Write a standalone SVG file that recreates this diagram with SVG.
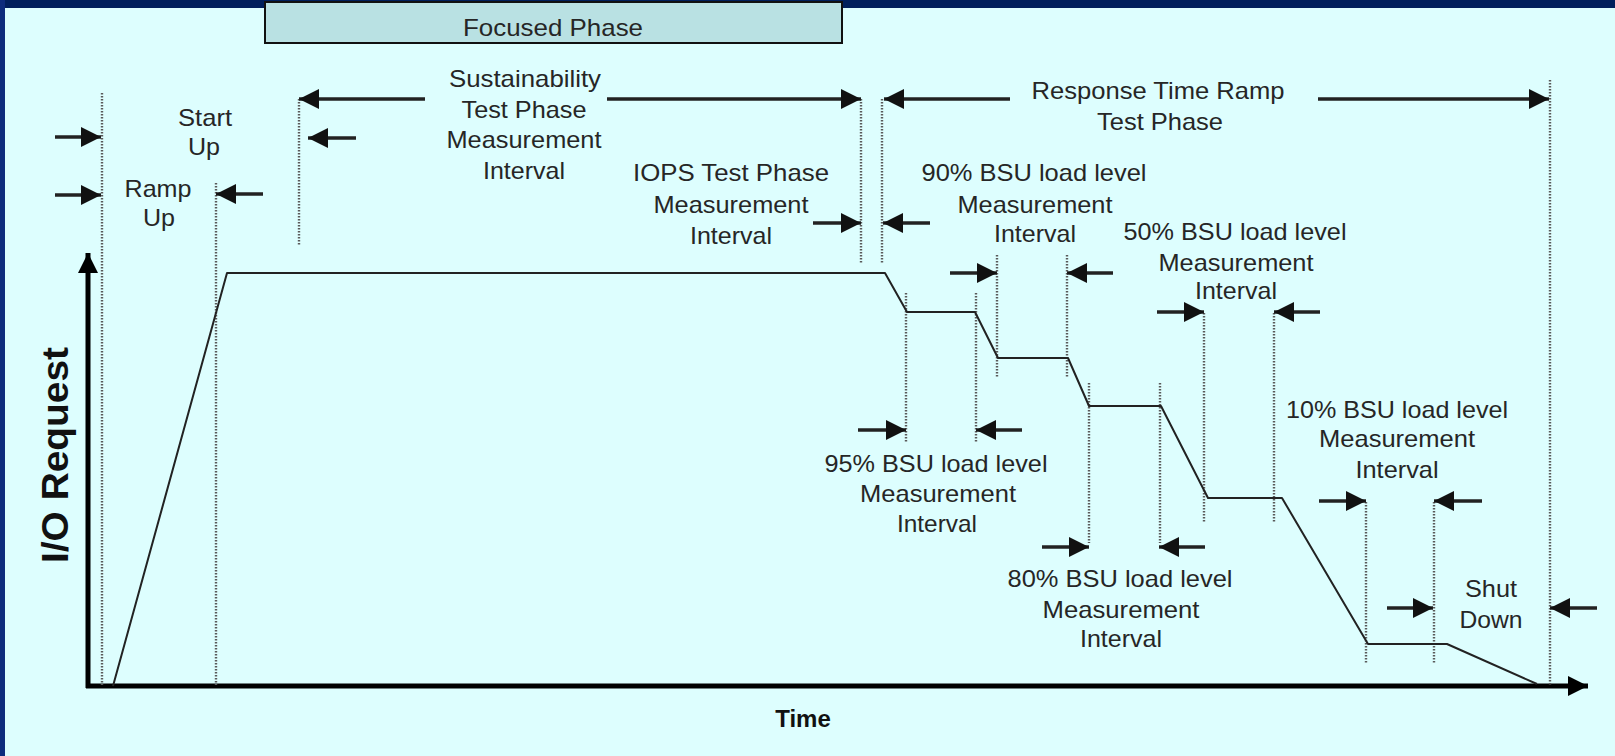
<svg xmlns="http://www.w3.org/2000/svg" width="1615" height="756" viewBox="0 0 1615 756">
<style>
  text { font-family: "Liberation Sans", Arial, sans-serif; fill: #262626; }
  .lbl { font-size: 24px; text-anchor: middle; }
  .bold { font-weight: bold; fill: #111; }
  .dot { stroke: #5a5a5a; stroke-width: 2.4; stroke-dasharray: 1.6 1.4; fill: none; }
  .arr { stroke: #222; stroke-width: 3.5; fill: none; marker-end: url(#ah); }
  .axis { stroke: #000; stroke-width: 5; fill: none; marker-end: url(#axh); }
  .curve { stroke: #222; stroke-width: 2; fill: none; stroke-linejoin: round; }
</style>
<defs>
  <marker id="ah" markerUnits="userSpaceOnUse" markerWidth="22" markerHeight="22" refX="20" refY="10" orient="auto">
    <path d="M0,0 L20,10 L0,20 Z" fill="#111"/>
  </marker>
  <marker id="axh" markerUnits="userSpaceOnUse" markerWidth="22" markerHeight="22" refX="20" refY="10" orient="auto">
    <path d="M0,0 L20,10 L0,20 Z" fill="#000"/>
  </marker>
</defs>
<rect x="0" y="0" width="1615" height="756" fill="#ddfefe"/>
<rect x="0" y="0" width="1615" height="8" fill="#001f5c"/>
<rect x="0" y="0" width="5" height="756" fill="#0d2c7c"/>

<g id="focused-phase">
  <rect x="265" y="2" width="577" height="41" fill="#b9e1e3" stroke="#111" stroke-width="2"/>
  <text class="lbl" x="553" y="36" textLength="180" lengthAdjust="spacingAndGlyphs">Focused Phase</text>
</g>

<g id="axes">
  <line class="axis" x1="88" y1="688" x2="88" y2="253"/>
  <line class="axis" x1="86" y1="686" x2="1588" y2="686"/>
  <text class="bold" font-size="36" text-anchor="middle" transform="translate(68,455) rotate(-90)" textLength="216" lengthAdjust="spacingAndGlyphs">I/O Request</text>
  <text class="bold" font-size="24" text-anchor="middle" x="803" y="727">Time</text>
</g>

<g id="dotted-lines">
  <line class="dot" x1="102" y1="93" x2="102" y2="685"/>
  <line class="dot" x1="216" y1="183" x2="216" y2="685"/>
  <line class="dot" x1="299" y1="99" x2="299" y2="245"/>
  <line class="dot" x1="861" y1="99" x2="861" y2="263"/>
  <line class="dot" x1="882" y1="99" x2="882" y2="263"/>
  <line class="dot" x1="906" y1="293" x2="906" y2="443"/>
  <line class="dot" x1="976" y1="293" x2="976" y2="443"/>
  <line class="dot" x1="997" y1="255" x2="997" y2="377"/>
  <line class="dot" x1="1067" y1="255" x2="1067" y2="377"/>
  <line class="dot" x1="1089" y1="383" x2="1089" y2="543"/>
  <line class="dot" x1="1160" y1="383" x2="1160" y2="543"/>
  <line class="dot" x1="1204" y1="313" x2="1204" y2="522"/>
  <line class="dot" x1="1274" y1="313" x2="1274" y2="522"/>
  <line class="dot" x1="1366" y1="502" x2="1366" y2="663"/>
  <line class="dot" x1="1434" y1="502" x2="1434" y2="663"/>
  <line class="dot" x1="1550" y1="80" x2="1550" y2="685"/>
</g>

<g id="io-curve">
  <polyline class="curve" points="113,686 227,273 885,273 907,312 975,312 998,358 1068,358 1089,406 1161,406 1208,498 1282,498 1368,644 1447,644 1537,684"/>
</g>

<g id="connectors">
  <line class="arr" x1="425" y1="99" x2="299" y2="99"/>
  <line class="arr" x1="607" y1="99" x2="861" y2="99"/>
  <line class="arr" x1="1010" y1="99" x2="884" y2="99"/>
  <line class="arr" x1="1318" y1="99" x2="1549" y2="99"/>
  <line class="arr" x1="55" y1="137" x2="101" y2="137"/>
  <line class="arr" x1="55" y1="195" x2="101" y2="195"/>
  <line class="arr" x1="263" y1="194" x2="216" y2="194"/>
  <line class="arr" x1="356" y1="138" x2="308" y2="138"/>
  <line class="arr" x1="813" y1="223" x2="861" y2="223"/>
  <line class="arr" x1="930" y1="223" x2="883" y2="223"/>
  <line class="arr" x1="950" y1="273" x2="997" y2="273"/>
  <line class="arr" x1="1113" y1="273" x2="1067" y2="273"/>
  <line class="arr" x1="858" y1="430" x2="906" y2="430"/>
  <line class="arr" x1="1022" y1="430" x2="976" y2="430"/>
  <line class="arr" x1="1157" y1="312" x2="1204" y2="312"/>
  <line class="arr" x1="1320" y1="312" x2="1274" y2="312"/>
  <line class="arr" x1="1042" y1="547" x2="1089" y2="547"/>
  <line class="arr" x1="1205" y1="547" x2="1159" y2="547"/>
  <line class="arr" x1="1319" y1="501" x2="1366" y2="501"/>
  <line class="arr" x1="1482" y1="501" x2="1434" y2="501"/>
  <line class="arr" x1="1387" y1="608" x2="1433" y2="608"/>
  <line class="arr" x1="1597" y1="608" x2="1550" y2="608"/>
</g>

<g id="start-up">
  <text class="lbl" x="205" y="126" textLength="54" lengthAdjust="spacingAndGlyphs">Start</text>
  <text class="lbl" x="204" y="155" textLength="32" lengthAdjust="spacingAndGlyphs">Up</text>
</g>
<g id="ramp-up">
  <text class="lbl" x="158" y="197" textLength="67" lengthAdjust="spacingAndGlyphs">Ramp</text>
  <text class="lbl" x="159" y="226" textLength="32" lengthAdjust="spacingAndGlyphs">Up</text>
</g>
<g id="sustainability">
  <text class="lbl" x="525" y="87" textLength="152" lengthAdjust="spacingAndGlyphs">Sustainability</text>
  <text class="lbl" x="524" y="118" textLength="125" lengthAdjust="spacingAndGlyphs">Test Phase</text>
  <text class="lbl" x="524" y="148" textLength="155" lengthAdjust="spacingAndGlyphs">Measurement</text>
  <text class="lbl" x="524" y="179" textLength="82" lengthAdjust="spacingAndGlyphs">Interval</text>
</g>
<g id="iops">
  <text class="lbl" x="731" y="181" textLength="196" lengthAdjust="spacingAndGlyphs">IOPS Test Phase</text>
  <text class="lbl" x="731" y="213" textLength="155" lengthAdjust="spacingAndGlyphs">Measurement</text>
  <text class="lbl" x="731" y="244" textLength="82" lengthAdjust="spacingAndGlyphs">Interval</text>
</g>
<g id="response-time">
  <text class="lbl" x="1158" y="99" textLength="253" lengthAdjust="spacingAndGlyphs">Response Time Ramp</text>
  <text class="lbl" x="1160" y="130" textLength="126" lengthAdjust="spacingAndGlyphs">Test Phase</text>
</g>
<g id="bsu-90">
  <text class="lbl" x="1034" y="181" textLength="225" lengthAdjust="spacingAndGlyphs">90% BSU load level</text>
  <text class="lbl" x="1035" y="213" textLength="155" lengthAdjust="spacingAndGlyphs">Measurement</text>
  <text class="lbl" x="1035" y="242" textLength="82" lengthAdjust="spacingAndGlyphs">Interval</text>
</g>
<g id="bsu-50">
  <text class="lbl" x="1235" y="240" textLength="223" lengthAdjust="spacingAndGlyphs">50% BSU load level</text>
  <text class="lbl" x="1236" y="271" textLength="155" lengthAdjust="spacingAndGlyphs">Measurement</text>
  <text class="lbl" x="1236" y="299" textLength="82" lengthAdjust="spacingAndGlyphs">Interval</text>
</g>
<g id="bsu-95">
  <text class="lbl" x="936" y="472" textLength="223" lengthAdjust="spacingAndGlyphs">95% BSU load level</text>
  <text class="lbl" x="938" y="502" textLength="156" lengthAdjust="spacingAndGlyphs">Measurement</text>
  <text class="lbl" x="937" y="532" textLength="80" lengthAdjust="spacingAndGlyphs">Interval</text>
</g>
<g id="bsu-80">
  <text class="lbl" x="1120" y="587" textLength="225" lengthAdjust="spacingAndGlyphs">80% BSU load level</text>
  <text class="lbl" x="1121" y="618" textLength="157" lengthAdjust="spacingAndGlyphs">Measurement</text>
  <text class="lbl" x="1121" y="647" textLength="82" lengthAdjust="spacingAndGlyphs">Interval</text>
</g>
<g id="bsu-10">
  <text class="lbl" x="1397" y="418" textLength="222" lengthAdjust="spacingAndGlyphs">10% BSU load level</text>
  <text class="lbl" x="1397" y="447" textLength="156" lengthAdjust="spacingAndGlyphs">Measurement</text>
  <text class="lbl" x="1397" y="478" textLength="83" lengthAdjust="spacingAndGlyphs">Interval</text>
</g>
<g id="shut-down">
  <text class="lbl" x="1491" y="597" textLength="52" lengthAdjust="spacingAndGlyphs">Shut</text>
  <text class="lbl" x="1491" y="628" textLength="63" lengthAdjust="spacingAndGlyphs">Down</text>
</g>
</svg>
